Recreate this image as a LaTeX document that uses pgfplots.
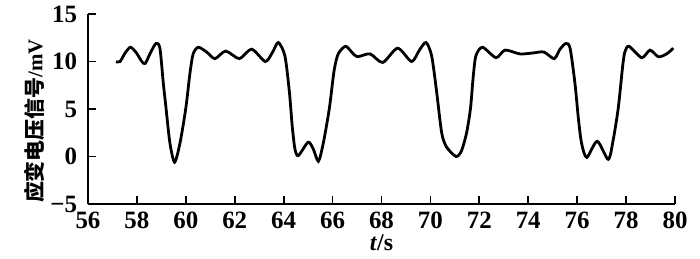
\documentclass[border=0pt]{standalone}
\usepackage{pgfplots}
\pgfplotsset{compat=1.18}
\usepackage{fontspec}
\setmainfont{Liberation Serif}
\newfontfamily\cjk{Noto Sans CJK SC}
\begin{document}
\begin{tikzpicture}
\useasboundingbox (-44bp,-27.5bp) rectangle (306bp,102bp);
\begin{axis}[
  scale only axis, width=293.5bp, height=95bp,
  xmin=56, xmax=80, ymin=-5, ymax=15,
  axis x line*=bottom, axis y line*=left,
  axis line style={line width=0.9pt},
  every tick/.style={black, line width=0.9pt},
  xtick={56,58,...,80}, ytick={-5,0,5,10,15},
  yticklabels={−5,0,5,10,15},
  tick align=inside, major tick length=4bp,
  tick label style={font=\fontsize{12.5}{14}\selectfont\bfseries},
  /pgf/number format/assume math mode=true,
  xticklabel style={yshift=-0.5bp},
  yticklabel style={xshift=-2bp},
  xlabel={\fontsize{12}{14}\selectfont\bfseries\textit{t}/s},
  xlabel style={yshift=4bp},
  ylabel={\fontsize{10.5}{12}\selectfont{\cjk\bfseries 应变电压信号}\bfseries/mV},
  ylabel style={yshift=-4bp, xshift=-6bp},
]
\addplot[black, line width=1.4pt, smooth, tension=0.45] coordinates {
(57.14,9.97) (57.31,10.0) (57.52,10.9) (57.74,11.5) (57.98,10.9) (58.20,10.0) (58.34,9.8)
(58.55,10.9) (58.78,11.9) (58.94,11.4) (59.08,7.7) (59.19,5.1) (59.35,1.4) (59.54,-0.6)
(59.76,1.4) (60.0,5.1) (60.17,8.8) (60.30,10.8) (60.51,11.5) (60.85,11.0) (61.19,10.3)
(61.63,11.1) (62.19,10.3) (62.69,11.3) (63.25,10.0) (63.55,11.0) (63.78,12.0) (64.05,10.6)
(64.23,6.9) (64.35,3.2) (64.46,0.8) (64.60,0.1) (65.0,1.5) (65.21,0.8) (65.42,-0.5)
(65.62,1.4) (65.87,5.1) (66.06,9.0) (66.23,10.8) (66.53,11.6) (66.78,11.0) (67.01,10.5)
(67.53,10.8) (68.05,9.9) (68.66,11.4) (69.23,10.0) (69.55,11.2) (69.82,12.0) (70.05,10.6)
(70.25,6.9) (70.46,2.5) (70.66,1.0) (71.05,0.0) (71.27,0.6) (71.48,2.5) (71.64,5.1)
(71.75,8.4) (71.86,10.6) (72.13,11.5) (72.68,10.4) (73.05,11.2) (73.66,10.8) (74.2,10.9)
(74.64,11.0) (75.06,10.3) (75.30,11.3) (75.54,11.9) (75.71,11.4) (75.91,7.7) (76.05,4.0)
(76.18,1.4) (76.39,-0.1) (76.82,1.6) (77.27,-0.3) (77.47,1.7) (77.68,5.1) (77.86,9.5)
(77.95,11.0) (78.12,11.6) (78.64,10.4) (78.98,11.2) (79.32,10.5) (79.66,10.8) (79.93,11.4)
};
\end{axis}
\end{tikzpicture}
\end{document}
